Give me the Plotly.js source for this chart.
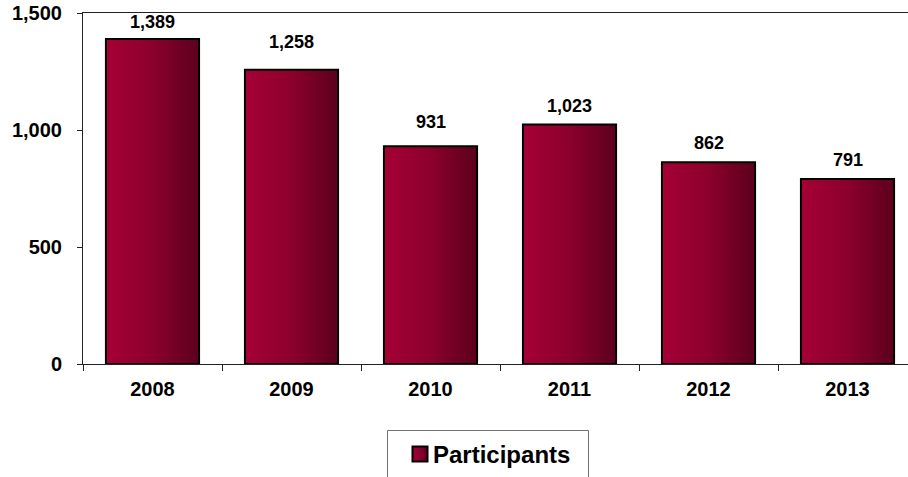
<!DOCTYPE html>
<html>
<head>
<meta charset="utf-8">
<script src="https://cdn.plot.ly/plotly-3.0.1.min.js"></script>
<style>
html,body{margin:0;padding:0;background:#fff;}
#chart{width:908px;height:477px;}
</style>
</head>
<body>
<div id="chart"></div>
<script>
const years = ['2008', '2009', '2010', '2011', '2012', '2013'];
const participants = [1389, 1258, 931, 1023, 862, 791];
const seriesName = 'Participants';
const yTickVals = [0, 500, 1000, 1500];

const FONT = 'Liberation Sans, Arial, Helvetica, sans-serif';
const W = 908, H = 477;
const L = 83, R = 0, T = 13, B = 113;
const pw = W - L - R, ph = H - T - B;
const px2x = p => (p - L) / pw;
const py2y = p => (H - B - p) / ph;

// label placement (pixel lift above each bar top), layout only
const labelLift = [5, 16, 12, 7, 7, 7];

const trace = {
  type: 'bar',
  x: years,
  y: participants,
  name: seriesName,
  width: 0.67,
  marker: {color: '#8b0030', line: {color: '#000', width: 2}},
  hoverinfo: 'none',
  showlegend: true
};

// category axis: annotation x given as category index
const annotations = years.map((yr, i) => ({
  x: i, y: participants[i], xref: 'x', yref: 'y',
  text: participants[i].toLocaleString('en-US'),
  showarrow: false, yanchor: 'bottom', yshift: labelLift[i],
  font: {family: FONT, size: 18, color: '#000', weight: 'bold'}
}));

const layout = {
  width: W, height: H,
  margin: {l: L, r: R, t: T, b: B, pad: 0},
  paper_bgcolor: '#fff', plot_bgcolor: '#fff',
  showlegend: true,
  xaxis: {
    type: 'category',
    range: [-0.5, -0.5 + pw / 139],
    showline: true, linecolor: '#222', linewidth: 1, mirror: true,
    ticks: 'outside', ticklen: 6, tickcolor: '#222', tickson: 'boundaries',
    showgrid: false, zeroline: false,
    tickfont: {family: FONT, size: 20, color: '#000', weight: 'bold'},
    ticklabelstandoff: 7
  },
  yaxis: {
    range: [0, 1500],
    tickvals: yTickVals,
    tickformat: ',d',
    showline: true, linecolor: '#222', linewidth: 1,
    ticks: 'outside', ticklen: 5, tickcolor: '#222',
    showgrid: false, zeroline: false,
    tickfont: {family: FONT, size: 20, color: '#000', weight: 'bold'},
    ticklabelstandoff: 11
  },
  separators: '.,',
  legend: {
    orientation: 'h',
    x: px2x(393), xanchor: 'left',
    y: py2y(432), yanchor: 'top',
    bgcolor: 'rgba(0,0,0,0)', borderwidth: 0,
    font: {family: FONT, size: 24, color: '#000', weight: 'bold'}
  },
  shapes: [{
    type: 'rect', xref: 'paper', yref: 'paper',
    x0: px2x(387.5), x1: px2x(588.5), y0: py2y(430.5), y1: py2y(500),
    line: {color: '#707070', width: 1}, fillcolor: 'rgba(0,0,0,0)', layer: 'above'
  }],
  annotations: annotations
};

function applyGradient(gd) {
  const svg = gd.querySelector('.main-svg');
  const ns = 'http://www.w3.org/2000/svg';
  let defs = svg.querySelector('defs');
  if (!defs) { defs = document.createElementNS(ns, 'defs'); svg.insertBefore(defs, svg.firstChild); }
  if (!svg.querySelector('#barGrad')) {
    const grad = document.createElementNS(ns, 'linearGradient');
    grad.setAttribute('id', 'barGrad');
    grad.setAttribute('x1', '0'); grad.setAttribute('x2', '1');
    grad.setAttribute('y1', '0'); grad.setAttribute('y2', '0');
    [['0', '#a60036'], ['0.5', '#8c002e'], ['1', '#5c001e']].forEach(([o, c]) => {
      const s = document.createElementNS(ns, 'stop');
      s.setAttribute('offset', o); s.setAttribute('stop-color', c);
      grad.appendChild(s);
    });
    defs.appendChild(grad);
  }
  gd.querySelectorAll('.bars path').forEach(p => { p.style.fill = 'url(#barGrad)'; });
  const sw = gd.querySelector('.legendpoints path');
  if (sw) {
    sw.setAttribute('d', 'M7.5,7.5H-7.5V-7.5H7.5Z');
    sw.setAttribute('transform', 'translate(27,0)');
    sw.style.fill = 'url(#barGrad)';
    sw.style.stroke = '#000';
    sw.style.strokeWidth = '2px';
  }
}

Plotly.newPlot('chart', [trace], layout, {displayModeBar: false}).then(applyGradient);
</script>
</body>
</html>
